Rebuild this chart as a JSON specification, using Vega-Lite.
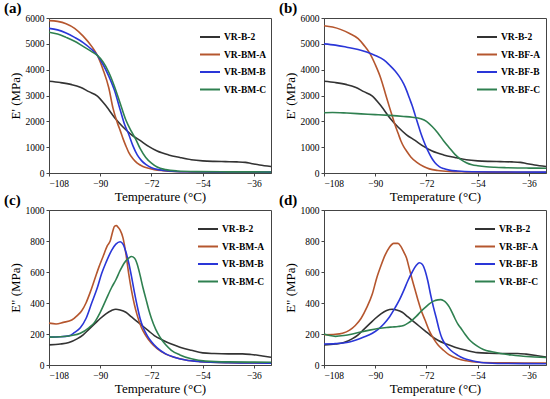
{
  "$schema": "https://vega.github.io/schema/vega-lite/v6.json",
  "padding": {"left": 3, "top": 0, "right": 5, "bottom": 2},
  "background": "white",
  "datasets": {
    "a": [
      {"s": "VR-B-2", "T": -108, "v": 3550}, {"s": "VR-B-2", "T": -104, "v": 3500}, {"s": "VR-B-2", "T": -100, "v": 3420}, {"s": "VR-B-2", "T": -97, "v": 3320}, {"s": "VR-B-2", "T": -94, "v": 3150},
      {"s": "VR-B-2", "T": -91, "v": 2980}, {"s": "VR-B-2", "T": -88, "v": 2600}, {"s": "VR-B-2", "T": -85, "v": 2150}, {"s": "VR-B-2", "T": -82, "v": 1780}, {"s": "VR-B-2", "T": -79, "v": 1480},
      {"s": "VR-B-2", "T": -76, "v": 1260}, {"s": "VR-B-2", "T": -73, "v": 1030}, {"s": "VR-B-2", "T": -70, "v": 850}, {"s": "VR-B-2", "T": -66, "v": 700}, {"s": "VR-B-2", "T": -62, "v": 600},
      {"s": "VR-B-2", "T": -58, "v": 515}, {"s": "VR-B-2", "T": -54, "v": 470}, {"s": "VR-B-2", "T": -50, "v": 450}, {"s": "VR-B-2", "T": -46, "v": 440}, {"s": "VR-B-2", "T": -42, "v": 430},
      {"s": "VR-B-2", "T": -39, "v": 410}, {"s": "VR-B-2", "T": -37, "v": 370}, {"s": "VR-B-2", "T": -34, "v": 310}, {"s": "VR-B-2", "T": -30, "v": 250},
      {"s": "VR-BM-A", "T": -108, "v": 5900}, {"s": "VR-BM-A", "T": -105, "v": 5870}, {"s": "VR-BM-A", "T": -102, "v": 5780}, {"s": "VR-BM-A", "T": -99, "v": 5600}, {"s": "VR-BM-A", "T": -96, "v": 5300},
      {"s": "VR-BM-A", "T": -93, "v": 4900}, {"s": "VR-BM-A", "T": -91, "v": 4550}, {"s": "VR-BM-A", "T": -89, "v": 4000}, {"s": "VR-BM-A", "T": -87, "v": 3300}, {"s": "VR-BM-A", "T": -85.5, "v": 2500},
      {"s": "VR-BM-A", "T": -84, "v": 1950}, {"s": "VR-BM-A", "T": -83, "v": 1650}, {"s": "VR-BM-A", "T": -82, "v": 1330}, {"s": "VR-BM-A", "T": -81, "v": 1050}, {"s": "VR-BM-A", "T": -80, "v": 800},
      {"s": "VR-BM-A", "T": -78.5, "v": 550}, {"s": "VR-BM-A", "T": -77, "v": 380}, {"s": "VR-BM-A", "T": -75, "v": 250}, {"s": "VR-BM-A", "T": -73, "v": 180}, {"s": "VR-BM-A", "T": -71, "v": 130},
      {"s": "VR-BM-A", "T": -68, "v": 90}, {"s": "VR-BM-A", "T": -64, "v": 60}, {"s": "VR-BM-A", "T": -58, "v": 45}, {"s": "VR-BM-A", "T": -50, "v": 35}, {"s": "VR-BM-A", "T": -30, "v": 30},
      {"s": "VR-BM-B", "T": -108, "v": 5600}, {"s": "VR-BM-B", "T": -105, "v": 5540}, {"s": "VR-BM-B", "T": -102, "v": 5420}, {"s": "VR-BM-B", "T": -99, "v": 5250}, {"s": "VR-BM-B", "T": -96, "v": 5050},
      {"s": "VR-BM-B", "T": -93, "v": 4780}, {"s": "VR-BM-B", "T": -91, "v": 4550}, {"s": "VR-BM-B", "T": -89, "v": 4200}, {"s": "VR-BM-B", "T": -87, "v": 3750}, {"s": "VR-BM-B", "T": -85, "v": 3200},
      {"s": "VR-BM-B", "T": -83, "v": 2450}, {"s": "VR-BM-B", "T": -81.5, "v": 1900}, {"s": "VR-BM-B", "T": -80, "v": 1500}, {"s": "VR-BM-B", "T": -78.5, "v": 1050}, {"s": "VR-BM-B", "T": -77, "v": 700},
      {"s": "VR-BM-B", "T": -75.5, "v": 480}, {"s": "VR-BM-B", "T": -74, "v": 330}, {"s": "VR-BM-B", "T": -72, "v": 200}, {"s": "VR-BM-B", "T": -69, "v": 120}, {"s": "VR-BM-B", "T": -66, "v": 80},
      {"s": "VR-BM-B", "T": -60, "v": 50}, {"s": "VR-BM-B", "T": -50, "v": 40}, {"s": "VR-BM-B", "T": -30, "v": 35},
      {"s": "VR-BM-C", "T": -108, "v": 5450}, {"s": "VR-BM-C", "T": -105, "v": 5380}, {"s": "VR-BM-C", "T": -102, "v": 5250}, {"s": "VR-BM-C", "T": -99, "v": 5100}, {"s": "VR-BM-C", "T": -96, "v": 4900},
      {"s": "VR-BM-C", "T": -93, "v": 4700}, {"s": "VR-BM-C", "T": -91, "v": 4550}, {"s": "VR-BM-C", "T": -89, "v": 4300}, {"s": "VR-BM-C", "T": -87, "v": 3900}, {"s": "VR-BM-C", "T": -85, "v": 3350},
      {"s": "VR-BM-C", "T": -83, "v": 2700}, {"s": "VR-BM-C", "T": -81, "v": 2050}, {"s": "VR-BM-C", "T": -79, "v": 1600}, {"s": "VR-BM-C", "T": -77.5, "v": 1300}, {"s": "VR-BM-C", "T": -76, "v": 950},
      {"s": "VR-BM-C", "T": -74, "v": 600}, {"s": "VR-BM-C", "T": -72, "v": 380}, {"s": "VR-BM-C", "T": -70, "v": 230}, {"s": "VR-BM-C", "T": -67, "v": 130}, {"s": "VR-BM-C", "T": -63, "v": 80},
      {"s": "VR-BM-C", "T": -56, "v": 55}, {"s": "VR-BM-C", "T": -45, "v": 45}, {"s": "VR-BM-C", "T": -30, "v": 40}
    ],
    "b": [
      {"s": "VR-B-2", "T": -108, "v": 3550}, {"s": "VR-B-2", "T": -104, "v": 3500}, {"s": "VR-B-2", "T": -100, "v": 3420}, {"s": "VR-B-2", "T": -97, "v": 3320}, {"s": "VR-B-2", "T": -94, "v": 3150},
      {"s": "VR-B-2", "T": -91, "v": 2980}, {"s": "VR-B-2", "T": -88, "v": 2600}, {"s": "VR-B-2", "T": -85, "v": 2150}, {"s": "VR-B-2", "T": -82, "v": 1780}, {"s": "VR-B-2", "T": -79, "v": 1480},
      {"s": "VR-B-2", "T": -76, "v": 1260}, {"s": "VR-B-2", "T": -73, "v": 1030}, {"s": "VR-B-2", "T": -70, "v": 850}, {"s": "VR-B-2", "T": -66, "v": 700}, {"s": "VR-B-2", "T": -62, "v": 600},
      {"s": "VR-B-2", "T": -58, "v": 515}, {"s": "VR-B-2", "T": -54, "v": 470}, {"s": "VR-B-2", "T": -50, "v": 450}, {"s": "VR-B-2", "T": -46, "v": 440}, {"s": "VR-B-2", "T": -42, "v": 430},
      {"s": "VR-B-2", "T": -39, "v": 410}, {"s": "VR-B-2", "T": -37, "v": 370}, {"s": "VR-B-2", "T": -34, "v": 310}, {"s": "VR-B-2", "T": -30, "v": 250},
      {"s": "VR-BF-A", "T": -108, "v": 5700}, {"s": "VR-BF-A", "T": -105, "v": 5650}, {"s": "VR-BF-A", "T": -102, "v": 5550}, {"s": "VR-BF-A", "T": -99, "v": 5400}, {"s": "VR-BF-A", "T": -96, "v": 5200},
      {"s": "VR-BF-A", "T": -94, "v": 4950}, {"s": "VR-BF-A", "T": -92, "v": 4650}, {"s": "VR-BF-A", "T": -90, "v": 4200}, {"s": "VR-BF-A", "T": -88, "v": 3650}, {"s": "VR-BF-A", "T": -86.5, "v": 3100},
      {"s": "VR-BF-A", "T": -85, "v": 2550}, {"s": "VR-BF-A", "T": -84, "v": 2200}, {"s": "VR-BF-A", "T": -83, "v": 1850}, {"s": "VR-BF-A", "T": -82, "v": 1550}, {"s": "VR-BF-A", "T": -81, "v": 1250},
      {"s": "VR-BF-A", "T": -80, "v": 1020}, {"s": "VR-BF-A", "T": -79, "v": 850}, {"s": "VR-BF-A", "T": -77.5, "v": 620}, {"s": "VR-BF-A", "T": -75.5, "v": 420}, {"s": "VR-BF-A", "T": -73, "v": 250},
      {"s": "VR-BF-A", "T": -71, "v": 160}, {"s": "VR-BF-A", "T": -68, "v": 95}, {"s": "VR-BF-A", "T": -64, "v": 60}, {"s": "VR-BF-A", "T": -58, "v": 45}, {"s": "VR-BF-A", "T": -50, "v": 35}, {"s": "VR-BF-A", "T": -30, "v": 30},
      {"s": "VR-BF-B", "T": -108, "v": 5000}, {"s": "VR-BF-B", "T": -104, "v": 4950}, {"s": "VR-BF-B", "T": -100, "v": 4870}, {"s": "VR-BF-B", "T": -96, "v": 4780}, {"s": "VR-BF-B", "T": -93, "v": 4680},
      {"s": "VR-BF-B", "T": -90, "v": 4550}, {"s": "VR-BF-B", "T": -87, "v": 4380}, {"s": "VR-BF-B", "T": -85, "v": 4180}, {"s": "VR-BF-B", "T": -83, "v": 3950}, {"s": "VR-BF-B", "T": -81.5, "v": 3730},
      {"s": "VR-BF-B", "T": -80, "v": 3450}, {"s": "VR-BF-B", "T": -79, "v": 3200}, {"s": "VR-BF-B", "T": -78, "v": 2900}, {"s": "VR-BF-B", "T": -77, "v": 2600}, {"s": "VR-BF-B", "T": -76, "v": 2250},
      {"s": "VR-BF-B", "T": -75, "v": 1900}, {"s": "VR-BF-B", "T": -74, "v": 1550}, {"s": "VR-BF-B", "T": -73, "v": 1250}, {"s": "VR-BF-B", "T": -72, "v": 980}, {"s": "VR-BF-B", "T": -71, "v": 750},
      {"s": "VR-BF-B", "T": -70, "v": 550}, {"s": "VR-BF-B", "T": -69, "v": 400}, {"s": "VR-BF-B", "T": -67.5, "v": 250}, {"s": "VR-BF-B", "T": -66, "v": 170}, {"s": "VR-BF-B", "T": -64, "v": 110},
      {"s": "VR-BF-B", "T": -61, "v": 75}, {"s": "VR-BF-B", "T": -56, "v": 50}, {"s": "VR-BF-B", "T": -45, "v": 40}, {"s": "VR-BF-B", "T": -30, "v": 35},
      {"s": "VR-BF-C", "T": -108, "v": 2330}, {"s": "VR-BF-C", "T": -105, "v": 2340}, {"s": "VR-BF-C", "T": -100, "v": 2320}, {"s": "VR-BF-C", "T": -95, "v": 2290}, {"s": "VR-BF-C", "T": -90, "v": 2260},
      {"s": "VR-BF-C", "T": -85, "v": 2230}, {"s": "VR-BF-C", "T": -80, "v": 2190}, {"s": "VR-BF-C", "T": -77, "v": 2160}, {"s": "VR-BF-C", "T": -74, "v": 2100}, {"s": "VR-BF-C", "T": -72, "v": 2000},
      {"s": "VR-BF-C", "T": -70, "v": 1800}, {"s": "VR-BF-C", "T": -68, "v": 1550}, {"s": "VR-BF-C", "T": -66, "v": 1250}, {"s": "VR-BF-C", "T": -64, "v": 980}, {"s": "VR-BF-C", "T": -62, "v": 720},
      {"s": "VR-BF-C", "T": -60, "v": 530}, {"s": "VR-BF-C", "T": -58, "v": 400}, {"s": "VR-BF-C", "T": -56, "v": 320}, {"s": "VR-BF-C", "T": -54, "v": 280}, {"s": "VR-BF-C", "T": -51, "v": 240},
      {"s": "VR-BF-C", "T": -48, "v": 220}, {"s": "VR-BF-C", "T": -44, "v": 205}, {"s": "VR-BF-C", "T": -40, "v": 195}, {"s": "VR-BF-C", "T": -36, "v": 190}, {"s": "VR-BF-C", "T": -30, "v": 185}
    ],
    "c": [
      {"s": "VR-B-2", "T": -108, "v": 130}, {"s": "VR-B-2", "T": -104, "v": 135}, {"s": "VR-B-2", "T": -101, "v": 145}, {"s": "VR-B-2", "T": -98, "v": 170}, {"s": "VR-B-2", "T": -96, "v": 195},
      {"s": "VR-B-2", "T": -94, "v": 230}, {"s": "VR-B-2", "T": -92, "v": 265}, {"s": "VR-B-2", "T": -90, "v": 300}, {"s": "VR-B-2", "T": -88, "v": 330}, {"s": "VR-B-2", "T": -86, "v": 352},
      {"s": "VR-B-2", "T": -84.5, "v": 360}, {"s": "VR-B-2", "T": -83, "v": 355}, {"s": "VR-B-2", "T": -81, "v": 340}, {"s": "VR-B-2", "T": -79, "v": 310}, {"s": "VR-B-2", "T": -77, "v": 280},
      {"s": "VR-B-2", "T": -75, "v": 250}, {"s": "VR-B-2", "T": -73, "v": 220}, {"s": "VR-B-2", "T": -71, "v": 190}, {"s": "VR-B-2", "T": -68, "v": 160}, {"s": "VR-B-2", "T": -65, "v": 135},
      {"s": "VR-B-2", "T": -62, "v": 115}, {"s": "VR-B-2", "T": -58, "v": 95}, {"s": "VR-B-2", "T": -54, "v": 78}, {"s": "VR-B-2", "T": -50, "v": 74}, {"s": "VR-B-2", "T": -45, "v": 72},
      {"s": "VR-B-2", "T": -40, "v": 72}, {"s": "VR-B-2", "T": -37, "v": 68}, {"s": "VR-B-2", "T": -33, "v": 58}, {"s": "VR-B-2", "T": -30, "v": 50},
      {"s": "VR-BM-A", "T": -108, "v": 270}, {"s": "VR-BM-A", "T": -105.5, "v": 265}, {"s": "VR-BM-A", "T": -103, "v": 275}, {"s": "VR-BM-A", "T": -100, "v": 290}, {"s": "VR-BM-A", "T": -98, "v": 320},
      {"s": "VR-BM-A", "T": -96.5, "v": 350}, {"s": "VR-BM-A", "T": -95, "v": 400}, {"s": "VR-BM-A", "T": -93.5, "v": 470}, {"s": "VR-BM-A", "T": -92, "v": 550}, {"s": "VR-BM-A", "T": -90.5, "v": 630},
      {"s": "VR-BM-A", "T": -89, "v": 700}, {"s": "VR-BM-A", "T": -87.5, "v": 770}, {"s": "VR-BM-A", "T": -86.5, "v": 800}, {"s": "VR-BM-A", "T": -85.5, "v": 870}, {"s": "VR-BM-A", "T": -85, "v": 895},
      {"s": "VR-BM-A", "T": -84.3, "v": 900}, {"s": "VR-BM-A", "T": -83.8, "v": 890}, {"s": "VR-BM-A", "T": -83, "v": 870}, {"s": "VR-BM-A", "T": -82, "v": 820}, {"s": "VR-BM-A", "T": -81, "v": 720},
      {"s": "VR-BM-A", "T": -80, "v": 590}, {"s": "VR-BM-A", "T": -79, "v": 480}, {"s": "VR-BM-A", "T": -78, "v": 390}, {"s": "VR-BM-A", "T": -77, "v": 320}, {"s": "VR-BM-A", "T": -75.5, "v": 240},
      {"s": "VR-BM-A", "T": -74, "v": 190}, {"s": "VR-BM-A", "T": -72, "v": 140}, {"s": "VR-BM-A", "T": -70, "v": 105}, {"s": "VR-BM-A", "T": -67, "v": 70}, {"s": "VR-BM-A", "T": -64, "v": 50},
      {"s": "VR-BM-A", "T": -60, "v": 32}, {"s": "VR-BM-A", "T": -55, "v": 22}, {"s": "VR-BM-A", "T": -45, "v": 15}, {"s": "VR-BM-A", "T": -30, "v": 12},
      {"s": "VR-BM-B", "T": -108, "v": 180}, {"s": "VR-BM-B", "T": -104, "v": 182}, {"s": "VR-BM-B", "T": -101, "v": 188}, {"s": "VR-BM-B", "T": -99, "v": 210}, {"s": "VR-BM-B", "T": -97, "v": 240},
      {"s": "VR-BM-B", "T": -95, "v": 300}, {"s": "VR-BM-B", "T": -93, "v": 400}, {"s": "VR-BM-B", "T": -91, "v": 500}, {"s": "VR-BM-B", "T": -89.5, "v": 590}, {"s": "VR-BM-B", "T": -88, "v": 660},
      {"s": "VR-BM-B", "T": -86, "v": 740}, {"s": "VR-BM-B", "T": -84.5, "v": 780}, {"s": "VR-BM-B", "T": -83, "v": 795}, {"s": "VR-BM-B", "T": -82, "v": 780}, {"s": "VR-BM-B", "T": -81, "v": 730},
      {"s": "VR-BM-B", "T": -80, "v": 660}, {"s": "VR-BM-B", "T": -79, "v": 570}, {"s": "VR-BM-B", "T": -78, "v": 470}, {"s": "VR-BM-B", "T": -77, "v": 380}, {"s": "VR-BM-B", "T": -76, "v": 300},
      {"s": "VR-BM-B", "T": -75, "v": 245}, {"s": "VR-BM-B", "T": -73.5, "v": 190}, {"s": "VR-BM-B", "T": -72, "v": 150}, {"s": "VR-BM-B", "T": -70, "v": 110}, {"s": "VR-BM-B", "T": -67, "v": 72},
      {"s": "VR-BM-B", "T": -64, "v": 50}, {"s": "VR-BM-B", "T": -60, "v": 32}, {"s": "VR-BM-B", "T": -55, "v": 22}, {"s": "VR-BM-B", "T": -45, "v": 15}, {"s": "VR-BM-B", "T": -30, "v": 12},
      {"s": "VR-BM-C", "T": -108, "v": 180}, {"s": "VR-BM-C", "T": -104, "v": 182}, {"s": "VR-BM-C", "T": -100, "v": 190}, {"s": "VR-BM-C", "T": -97, "v": 205}, {"s": "VR-BM-C", "T": -94, "v": 240},
      {"s": "VR-BM-C", "T": -92, "v": 275}, {"s": "VR-BM-C", "T": -90, "v": 340}, {"s": "VR-BM-C", "T": -88, "v": 420}, {"s": "VR-BM-C", "T": -86, "v": 500}, {"s": "VR-BM-C", "T": -84.5, "v": 550},
      {"s": "VR-BM-C", "T": -83, "v": 610}, {"s": "VR-BM-C", "T": -81.5, "v": 660}, {"s": "VR-BM-C", "T": -80, "v": 690}, {"s": "VR-BM-C", "T": -79, "v": 700}, {"s": "VR-BM-C", "T": -78, "v": 690},
      {"s": "VR-BM-C", "T": -77, "v": 650}, {"s": "VR-BM-C", "T": -76, "v": 580}, {"s": "VR-BM-C", "T": -75, "v": 500}, {"s": "VR-BM-C", "T": -74, "v": 430}, {"s": "VR-BM-C", "T": -73, "v": 360},
      {"s": "VR-BM-C", "T": -72, "v": 300}, {"s": "VR-BM-C", "T": -70.5, "v": 230}, {"s": "VR-BM-C", "T": -69, "v": 180}, {"s": "VR-BM-C", "T": -67, "v": 130}, {"s": "VR-BM-C", "T": -65, "v": 95},
      {"s": "VR-BM-C", "T": -62, "v": 65}, {"s": "VR-BM-C", "T": -58, "v": 40}, {"s": "VR-BM-C", "T": -53, "v": 25}, {"s": "VR-BM-C", "T": -45, "v": 20}, {"s": "VR-BM-C", "T": -30, "v": 18}
    ],
    "d": [
      {"s": "VR-B-2", "T": -108, "v": 130}, {"s": "VR-B-2", "T": -104, "v": 135}, {"s": "VR-B-2", "T": -101, "v": 145}, {"s": "VR-B-2", "T": -98, "v": 170}, {"s": "VR-B-2", "T": -96, "v": 195},
      {"s": "VR-B-2", "T": -94, "v": 230}, {"s": "VR-B-2", "T": -92, "v": 265}, {"s": "VR-B-2", "T": -90, "v": 300}, {"s": "VR-B-2", "T": -88, "v": 330}, {"s": "VR-B-2", "T": -86, "v": 352},
      {"s": "VR-B-2", "T": -84, "v": 360}, {"s": "VR-B-2", "T": -82.5, "v": 355}, {"s": "VR-B-2", "T": -80.5, "v": 340}, {"s": "VR-B-2", "T": -78.5, "v": 310}, {"s": "VR-B-2", "T": -76.5, "v": 280},
      {"s": "VR-B-2", "T": -74.5, "v": 250}, {"s": "VR-B-2", "T": -72.5, "v": 220}, {"s": "VR-B-2", "T": -70.5, "v": 190}, {"s": "VR-B-2", "T": -68, "v": 160}, {"s": "VR-B-2", "T": -65, "v": 135},
      {"s": "VR-B-2", "T": -62, "v": 115}, {"s": "VR-B-2", "T": -58, "v": 95}, {"s": "VR-B-2", "T": -54, "v": 80}, {"s": "VR-B-2", "T": -50, "v": 76}, {"s": "VR-B-2", "T": -45, "v": 74},
      {"s": "VR-B-2", "T": -40, "v": 74}, {"s": "VR-B-2", "T": -37, "v": 70}, {"s": "VR-B-2", "T": -33, "v": 60}, {"s": "VR-B-2", "T": -30, "v": 52},
      {"s": "VR-BF-A", "T": -108, "v": 195}, {"s": "VR-BF-A", "T": -104, "v": 198}, {"s": "VR-BF-A", "T": -101.5, "v": 205}, {"s": "VR-BF-A", "T": -99, "v": 225}, {"s": "VR-BF-A", "T": -97, "v": 255},
      {"s": "VR-BF-A", "T": -95, "v": 300}, {"s": "VR-BF-A", "T": -93, "v": 370}, {"s": "VR-BF-A", "T": -91, "v": 460}, {"s": "VR-BF-A", "T": -89.5, "v": 560}, {"s": "VR-BF-A", "T": -88, "v": 640},
      {"s": "VR-BF-A", "T": -86.5, "v": 710}, {"s": "VR-BF-A", "T": -85, "v": 760}, {"s": "VR-BF-A", "T": -83.5, "v": 785}, {"s": "VR-BF-A", "T": -82, "v": 785}, {"s": "VR-BF-A", "T": -81, "v": 765},
      {"s": "VR-BF-A", "T": -80, "v": 730}, {"s": "VR-BF-A", "T": -79, "v": 690}, {"s": "VR-BF-A", "T": -78, "v": 620}, {"s": "VR-BF-A", "T": -77, "v": 550}, {"s": "VR-BF-A", "T": -76, "v": 485},
      {"s": "VR-BF-A", "T": -75, "v": 420}, {"s": "VR-BF-A", "T": -74, "v": 360}, {"s": "VR-BF-A", "T": -72.5, "v": 290}, {"s": "VR-BF-A", "T": -71, "v": 220}, {"s": "VR-BF-A", "T": -69.5, "v": 170},
      {"s": "VR-BF-A", "T": -68, "v": 130}, {"s": "VR-BF-A", "T": -66, "v": 95}, {"s": "VR-BF-A", "T": -64, "v": 65}, {"s": "VR-BF-A", "T": -61, "v": 40}, {"s": "VR-BF-A", "T": -58, "v": 27},
      {"s": "VR-BF-A", "T": -54, "v": 18}, {"s": "VR-BF-A", "T": -45, "v": 14}, {"s": "VR-BF-A", "T": -30, "v": 12},
      {"s": "VR-BF-B", "T": -108, "v": 135}, {"s": "VR-BF-B", "T": -104, "v": 138}, {"s": "VR-BF-B", "T": -100, "v": 145}, {"s": "VR-BF-B", "T": -97, "v": 160}, {"s": "VR-BF-B", "T": -94, "v": 180},
      {"s": "VR-BF-B", "T": -91, "v": 205}, {"s": "VR-BF-B", "T": -89, "v": 230}, {"s": "VR-BF-B", "T": -87, "v": 265}, {"s": "VR-BF-B", "T": -85, "v": 310}, {"s": "VR-BF-B", "T": -83, "v": 370},
      {"s": "VR-BF-B", "T": -81.5, "v": 420}, {"s": "VR-BF-B", "T": -80, "v": 480}, {"s": "VR-BF-B", "T": -78.5, "v": 545}, {"s": "VR-BF-B", "T": -77, "v": 600}, {"s": "VR-BF-B", "T": -75.5, "v": 645},
      {"s": "VR-BF-B", "T": -74.5, "v": 660}, {"s": "VR-BF-B", "T": -73.5, "v": 650}, {"s": "VR-BF-B", "T": -72.5, "v": 610}, {"s": "VR-BF-B", "T": -71.5, "v": 540}, {"s": "VR-BF-B", "T": -70.5, "v": 450},
      {"s": "VR-BF-B", "T": -69.5, "v": 370}, {"s": "VR-BF-B", "T": -68.5, "v": 300}, {"s": "VR-BF-B", "T": -67.5, "v": 225}, {"s": "VR-BF-B", "T": -66.5, "v": 170}, {"s": "VR-BF-B", "T": -65, "v": 125},
      {"s": "VR-BF-B", "T": -63.5, "v": 95}, {"s": "VR-BF-B", "T": -61, "v": 62}, {"s": "VR-BF-B", "T": -59, "v": 43}, {"s": "VR-BF-B", "T": -56, "v": 28}, {"s": "VR-BF-B", "T": -52, "v": 15},
      {"s": "VR-BF-B", "T": -45, "v": 10}, {"s": "VR-BF-B", "T": -30, "v": 8},
      {"s": "VR-BF-C", "T": -108, "v": 200}, {"s": "VR-BF-C", "T": -106, "v": 190}, {"s": "VR-BF-C", "T": -104, "v": 185}, {"s": "VR-BF-C", "T": -101, "v": 190}, {"s": "VR-BF-C", "T": -98, "v": 200},
      {"s": "VR-BF-C", "T": -95, "v": 213}, {"s": "VR-BF-C", "T": -92, "v": 225}, {"s": "VR-BF-C", "T": -89, "v": 235}, {"s": "VR-BF-C", "T": -86, "v": 242}, {"s": "VR-BF-C", "T": -84, "v": 245},
      {"s": "VR-BF-C", "T": -82, "v": 248}, {"s": "VR-BF-C", "T": -80, "v": 255}, {"s": "VR-BF-C", "T": -78.5, "v": 270}, {"s": "VR-BF-C", "T": -77, "v": 290}, {"s": "VR-BF-C", "T": -75.5, "v": 315},
      {"s": "VR-BF-C", "T": -74, "v": 345}, {"s": "VR-BF-C", "T": -72.5, "v": 370}, {"s": "VR-BF-C", "T": -71, "v": 395}, {"s": "VR-BF-C", "T": -69.5, "v": 412}, {"s": "VR-BF-C", "T": -68, "v": 420},
      {"s": "VR-BF-C", "T": -67, "v": 422}, {"s": "VR-BF-C", "T": -66, "v": 415}, {"s": "VR-BF-C", "T": -65, "v": 400}, {"s": "VR-BF-C", "T": -64, "v": 375}, {"s": "VR-BF-C", "T": -63, "v": 340},
      {"s": "VR-BF-C", "T": -62, "v": 300}, {"s": "VR-BF-C", "T": -61, "v": 265}, {"s": "VR-BF-C", "T": -60, "v": 240}, {"s": "VR-BF-C", "T": -58.5, "v": 200}, {"s": "VR-BF-C", "T": -57, "v": 165},
      {"s": "VR-BF-C", "T": -55.5, "v": 140}, {"s": "VR-BF-C", "T": -54, "v": 120}, {"s": "VR-BF-C", "T": -52, "v": 100}, {"s": "VR-BF-C", "T": -49, "v": 85}, {"s": "VR-BF-C", "T": -46, "v": 74},
      {"s": "VR-BF-C", "T": -42, "v": 64}, {"s": "VR-BF-C", "T": -38, "v": 56}, {"s": "VR-BF-C", "T": -34, "v": 52}, {"s": "VR-BF-C", "T": -30, "v": 48}
    ]
  },
  "columns": 2,
  "spacing": {"row": 37, "column": 53},
  "bounds": "flush",
  "resolve": {"scale": {"color": "independent", "x": "independent", "y": "independent"}, "legend": {"color": "independent"}},
  "concat": [
    {
      "width": 222, "height": 155,
      "title": {"text": "(a)"},
      "data": {"name": "a"},
      "mark": {"type": "line", "strokeWidth": 1.6, "interpolate": "monotone"},
      "encoding": {
        "x": {"field": "T", "type": "quantitative", "scale": {"domain": [-108, -30], "nice": false, "zero": false}, "axis": {"title": "Temperature (°C)", "values": [-108, -90, -72, -54, -36]}},
        "y": {"field": "v", "type": "quantitative", "scale": {"domain": [0, 6000], "nice": false}, "axis": {"title": "E' (MPa)", "values": [0, 1000, 2000, 3000, 4000, 5000, 6000]}},
        "color": {"field": "s", "type": "nominal", "scale": {"domain": ["VR-B-2", "VR-BM-A", "VR-BM-B", "VR-BM-C"], "range": ["#333333", "#b5562e", "#2a36d8", "#2f8050"]}, "legend": {"orient": "none", "legendX": 150, "legendY": 8}}
      }
    },
    {
      "width": 222, "height": 155,
      "title": {"text": "(b)"},
      "data": {"name": "b"},
      "mark": {"type": "line", "strokeWidth": 1.6, "interpolate": "monotone"},
      "encoding": {
        "x": {"field": "T", "type": "quantitative", "scale": {"domain": [-108, -30], "nice": false, "zero": false}, "axis": {"title": "Temperature (°C)", "values": [-108, -90, -72, -54, -36]}},
        "y": {"field": "v", "type": "quantitative", "scale": {"domain": [0, 6000], "nice": false}, "axis": {"title": "E' (MPa)", "values": [0, 1000, 2000, 3000, 4000, 5000, 6000]}},
        "color": {"field": "s", "type": "nominal", "scale": {"domain": ["VR-B-2", "VR-BF-A", "VR-BF-B", "VR-BF-C"], "range": ["#333333", "#b5562e", "#2a36d8", "#2f8050"]}, "legend": {"orient": "none", "legendX": 152, "legendY": 8}}
      }
    },
    {
      "width": 222, "height": 155,
      "title": {"text": "(c)"},
      "data": {"name": "c"},
      "mark": {"type": "line", "strokeWidth": 1.6, "interpolate": "monotone"},
      "encoding": {
        "x": {"field": "T", "type": "quantitative", "scale": {"domain": [-108, -30], "nice": false, "zero": false}, "axis": {"title": "Temperature (°C)", "values": [-108, -90, -72, -54, -36]}},
        "y": {"field": "v", "type": "quantitative", "scale": {"domain": [0, 1000], "nice": false}, "axis": {"title": "E\" (MPa)", "values": [0, 200, 400, 600, 800, 1000]}},
        "color": {"field": "s", "type": "nominal", "scale": {"domain": ["VR-B-2", "VR-BM-A", "VR-BM-B", "VR-BM-C"], "range": ["#333333", "#b5562e", "#2a36d8", "#2f8050"]}, "legend": {"orient": "none", "legendX": 148, "legendY": 8}}
      }
    },
    {
      "width": 222, "height": 155,
      "title": {"text": "(d)"},
      "data": {"name": "d"},
      "mark": {"type": "line", "strokeWidth": 1.6, "interpolate": "monotone"},
      "encoding": {
        "x": {"field": "T", "type": "quantitative", "scale": {"domain": [-108, -30], "nice": false, "zero": false}, "axis": {"title": "Temperature (°C)", "values": [-108, -90, -72, -54, -36]}},
        "y": {"field": "v", "type": "quantitative", "scale": {"domain": [0, 1000], "nice": false}, "axis": {"title": "E\" (MPa)", "values": [0, 200, 400, 600, 800, 1000]}},
        "color": {"field": "s", "type": "nominal", "scale": {"domain": ["VR-B-2", "VR-BF-A", "VR-BF-B", "VR-BF-C"], "range": ["#333333", "#b5562e", "#2a36d8", "#2f8050"]}, "legend": {"orient": "none", "legendX": 150, "legendY": 8}}
      }
    }
  ],
  "config": {
    "font": "Liberation Serif",
    "view": {"stroke": "#444444", "strokeWidth": 1},
    "title": {"anchor": "start", "fontSize": 15, "fontWeight": "bold", "color": "black", "dx": -5, "offset": -3, "font": "Liberation Serif"},
    "axis": {"grid": false, "format": "d", "domainColor": "#444444", "tickColor": "#444444", "tickSize": 3, "labelFontSize": 9.5, "labelColor": "black", "titleFontSize": 13, "titleFontWeight": "normal", "titleColor": "black", "labelPadding": 2, "titlePadding": 3, "labelFont": "Liberation Serif", "titleFont": "Liberation Serif"},
    "legend": {"title": null, "symbolType": "stroke", "symbolSize": 400, "symbolStrokeWidth": 2, "labelFontSize": 9.5, "labelFontWeight": "bold", "labelFont": "Liberation Serif", "labelColor": "black", "rowPadding": 1.5, "labelOffset": 3}
  }
}
